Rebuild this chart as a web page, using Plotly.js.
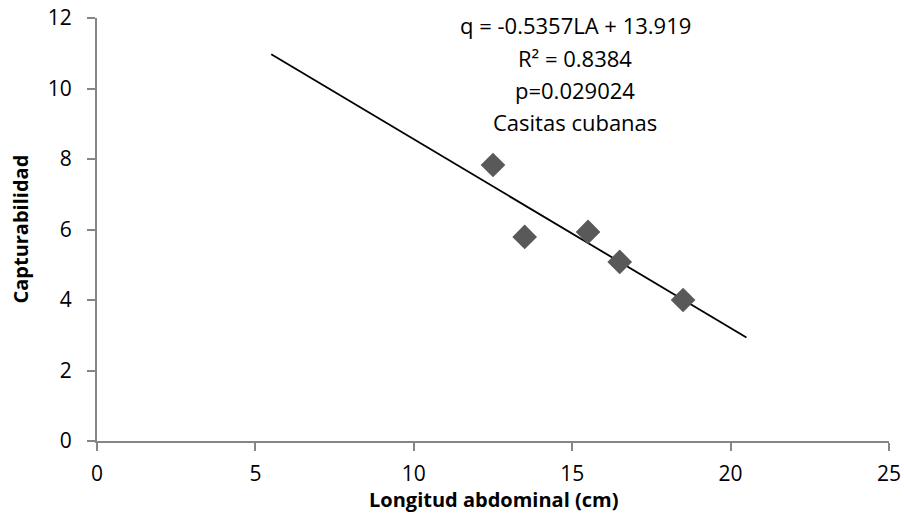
<!DOCTYPE html>
<html>
<head>
<meta charset="utf-8">
<script src="https://cdn.plot.ly/plotly-3.0.1.min.js"></script>
<style>html,body{margin:0;padding:0;background:#fff;}#chart{width:904px;height:529px;}</style>
</head>
<body>
<div id="chart"></div>
<script>
const longitudAbdominal = [12.5, 13.5, 15.5, 16.5, 18.5];
const capturabilidad = [7.83, 5.79, 5.93, 5.08, 4.0];
const slope = -0.5357;
const intercept = 13.919;
const trendX = [5.5, 20.5];
const annotationLines = ["q = -0.5357LA + 13.919", "R² = 0.8384", "p=0.029024", "Casitas cubanas"];
const xTitle = 'Longitud abdominal (cm)';
const yTitle = 'Capturabilidad';
const xTicks = [0, 5, 10, 15, 20, 25];
const yTicks = [0, 2, 4, 6, 8, 10, 12];

const trendY = trendX.map(x => slope * x + intercept);
const font = "Open Sans, Noto Sans, sans-serif";

const annY = [11.8, 10.87, 9.96, 9.05];
const annotations = annotationLines.map((t, i) => ({
  x: 15.09, y: annY[i], xref: 'x', yref: 'y', text: t, showarrow: false,
  font: {family: font, size: 22, color: '#000'}, xanchor: 'center', yanchor: 'middle'
}));
annotations.push({
  x: 0.5, y: -0.139, xref: 'paper', yref: 'paper', text: xTitle, showarrow: false,
  font: {family: font, size: 20, color: '#000', weight: 'bold'}, xanchor: 'center', yanchor: 'middle'
});
annotations.push({
  x: -0.0972, y: 0.5, xref: 'paper', yref: 'paper', text: yTitle, showarrow: false, textangle: -90,
  font: {family: font, size: 20, color: '#000', weight: 'bold'}, xanchor: 'center', yanchor: 'middle'
});

const data = [
  {x: trendX, y: trendY, mode: 'lines', type: 'scatter', line: {color: '#000', width: 1.8}, hoverinfo: 'skip'},
  {x: longitudAbdominal, y: capturabilidad, mode: 'markers', type: 'scatter',
   marker: {symbol: 'diamond', size: 19, color: '#595959'}}
];

const axisCommon = {
  showgrid: false, zeroline: false, showline: true, linecolor: '#868686', linewidth: 2,
  ticks: 'outside', ticklen: 8, tickwidth: 2, tickcolor: '#868686',
  tickfont: {family: font, size: 21, color: '#000'}, tickmode: 'array'
};

const layout = {
  width: 904, height: 529,
  margin: {l: 97, r: 15, t: 18, b: 88},
  paper_bgcolor: '#fff', plot_bgcolor: '#fff',
  showlegend: false,
  xaxis: Object.assign({}, axisCommon, {
    range: [0, 25], tickvals: xTicks, ticktext: xTicks.map(String), ticklabelstandoff: 5
  }),
  yaxis: Object.assign({}, axisCommon, {
    range: [0, 12], tickvals: yTicks, ticktext: yTicks.map(String), ticklabelstandoff: 11
  }),
  annotations: annotations
};

Plotly.newPlot('chart', data, layout, {displayModeBar: false, staticPlot: true});
</script>
</body>
</html>
